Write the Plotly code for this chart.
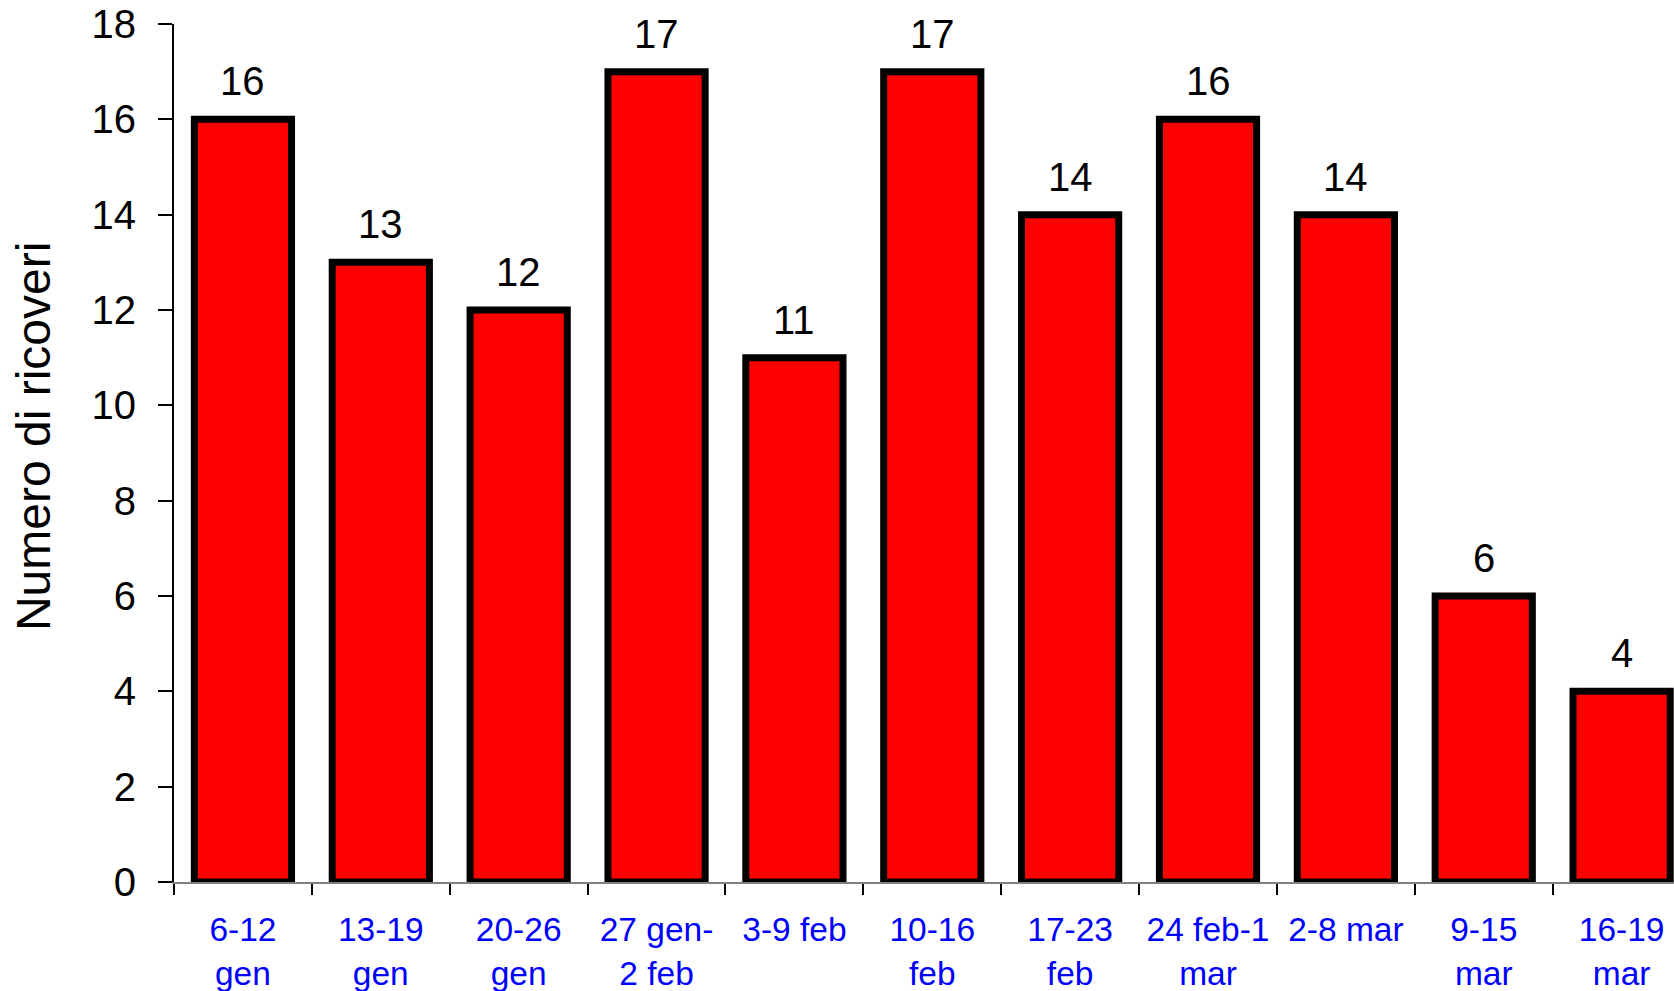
import plotly.graph_objects as go

# Weekly hospital admissions
settimane = [
    "6-12<br>gen", "13-19<br>gen", "20-26<br>gen", "27 gen-<br>2 feb", "3-9 feb",
    "10-16<br>feb", "17-23<br>feb", "24 feb-1<br>mar", "2-8 mar", "9-15<br>mar", "16-19<br>mar",
]
ricoveri = [16, 13, 12, 17, 11, 17, 14, 16, 14, 6, 4]

y_ticks = list(range(0, 19, 2))

FONT = "Liberation Sans, Arial, sans-serif"

fig = go.Figure()
fig.add_trace(go.Bar(
    x=settimane,
    y=ricoveri,
    width=0.705,
    marker=dict(color="#FF0000", line=dict(color="#000000", width=7)),
    hoverinfo="skip",
))

# value labels above each bar
for cat, v in zip(settimane, ricoveri):
    fig.add_annotation(
        x=cat, y=v, xref="x", yref="y", text=str(v), showarrow=False,
        yanchor="bottom", yshift=14,
        font=dict(family=FONT, size=40, color="#000000"),
    )

# vertical axis title
fig.add_annotation(
    x=0, y=0.5186, xref="paper", yref="paper", xshift=-141,
    text="Numero di ricoveri", textangle=-90, showarrow=False,
    xanchor="center", yanchor="middle",
    font=dict(family=FONT, size=48, color="#000000"),
)

fig.update_layout(
    width=1674, height=991,
    margin=dict(l=174, r=0, t=24, b=109, pad=0),
    paper_bgcolor="#FFFFFF", plot_bgcolor="#FFFFFF",
    showlegend=False,
    xaxis=dict(
        type="category",
        categoryorder="array", categoryarray=settimane,
        range=[-0.5, 10.38],
        tickson="boundaries",
        ticks="outside", ticklen=11, tickwidth=2, tickcolor="#000000",
        showline=True, linecolor="#808080", linewidth=2,
        showgrid=False, zeroline=False,
        tickfont=dict(family=FONT, size=33.5, color="#0000FF"),
        tickangle=0,
        ticklabelposition="outside",
        ticklabelstandoff=17,
    ),
    yaxis=dict(
        range=[0, 18],
        tickmode="array", tickvals=y_ticks,
        ticks="outside", ticklen=14, tickwidth=2, tickcolor="#000000",
        showline=True, linecolor="#000000", linewidth=2,
        showgrid=False, zeroline=False,
        tickfont=dict(family=FONT, size=40, color="#000000"),
        ticklabelstandoff=14,
    ),
)

fig.write_html("out.html")
